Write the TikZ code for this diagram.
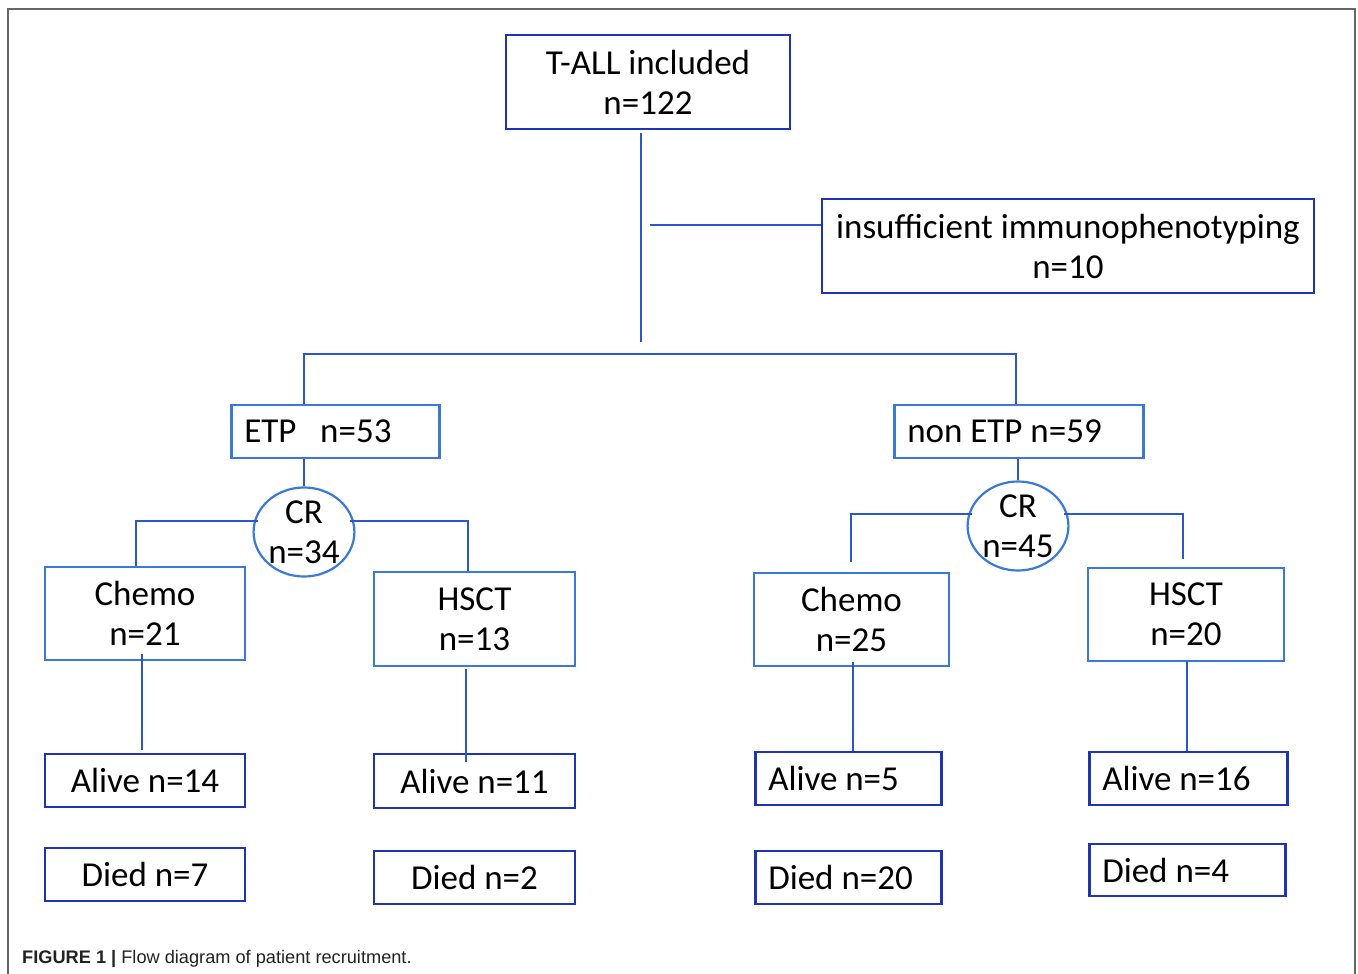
\documentclass[tikz,border=0pt]{standalone}
\usepackage{fontspec}
\setmainfont{Carlito}
\newfontfamily\capfont{Liberation Sans}
\usetikzlibrary{shapes.geometric}
\definecolor{darkbox}{HTML}{1E34B0}
\definecolor{lightbox}{HTML}{3A7AD6}
\definecolor{linkblue}{HTML}{2A58CC}
\definecolor{framegray}{HTML}{666666}
\definecolor{captext}{HTML}{222222}
\tikzset{
  every node/.style={font=\fontsize{35}{40}\selectfont, text=black},
  dbox/.style={draw=darkbox, line width=2.5pt, rectangle, inner sep=0pt, align=center},
  lbox/.style={draw=lightbox, line width=2.5pt, rectangle, inner sep=0pt, align=center},
  leftbox/.style={inner xsep=13pt, align=flush left, anchor=west},
  crnode/.style={draw=lightbox, line width=2.2pt, ellipse, inner sep=0pt, align=center},
  link/.style={draw=linkblue, line width=2pt}
}
\begin{document}
\begin{tikzpicture}[x=1pt, y=-1pt]
\useasboundingbox (0,0) rectangle (1358,974);
% frame
\draw[framegray, line width=1.5pt] (8,980) -- (8,9) -- (1355,9) -- (1355,980);

% top
\node[dbox, minimum width=284pt, minimum height=94pt] (tall) at (648,82) {T-ALL included\\n=122};
\node[dbox, minimum width=492pt, minimum height=94pt] (insuf) at (1068,246) {insufficient immunophenotyping\\n=10};

% first split
\node[lbox, minimum width=208pt, minimum height=53pt, leftbox, text width=182pt] (etp) at (230,431.5) {ETP~~~n=53};
\node[lbox, minimum width=249pt, minimum height=53pt, leftbox, text width=223pt, inner xsep=12pt] (netp) at (893,431.5) {non ETP n=59};

% CR circles
\node[crnode, minimum width=96pt, minimum height=86pt] (crL) at (304,532) {CR\\n=34};
\node[crnode, minimum width=96pt, minimum height=82pt] (crR) at (1018,526) {CR\\n=45};

% treatment boxes
\node[lbox, minimum width=200pt, minimum height=93pt] (chL) at (145,613.5) {Chemo\\n=21};
\node[lbox, minimum width=201pt, minimum height=94pt] (hsL) at (474.5,619) {HSCT\\n=13};
\node[lbox, minimum width=195pt, minimum height=93pt] (chR) at (851.5,619.5) {Chemo\\n=25};
\node[lbox, minimum width=196pt, minimum height=93pt] (hsR) at (1186,614.5) {HSCT\\n=20};

% outcome boxes
\node[dbox, minimum width=200pt, minimum height=53pt] (alL1) at (145,780.5) {Alive n=14};
\node[dbox, minimum width=200pt, minimum height=53pt] (diL1) at (145,874.5) {Died n=7};
\node[dbox, minimum width=201pt, minimum height=54pt] (alL2) at (474.5,781) {Alive n=11};
\node[dbox, minimum width=201pt, minimum height=53pt] (diL2) at (474.5,877.5) {Died n=2};
\node[dbox, minimum width=186pt, minimum height=53pt, leftbox, text width=160pt] (alR1) at (754,778.5) {Alive n=5};
\node[dbox, minimum width=186pt, minimum height=53pt, leftbox, text width=160pt] (diR1) at (754,877.5) {Died n=20};
\node[dbox, minimum width=198pt, minimum height=53pt, leftbox, text width=172pt] (alR2) at (1088,778.5) {Alive n=16};
\node[dbox, minimum width=196pt, minimum height=52pt, leftbox, text width=170pt] (diR2) at (1088,870) {Died n=4};

% caption
\node[anchor=base west, inner sep=0pt, font=\capfont\fontsize{18.2}{20}\selectfont, text=captext] (cap) at (22,963) {\textbf{FIGURE 1 |} Flow diagram of patient recruitment.};

% connectors: trunk
\coordinate (trunkTop) at (640.5,133);
\coordinate (trunkEnd) at (640.5,342);
\draw[link] (trunkTop) -- (trunkEnd);
\coordinate (sideStart) at (650,225);
\draw[link] (sideStart) -- (insuf.west |- sideStart);
\coordinate (barL) at (304,354);
\coordinate (barR) at (1016,354);
\draw[link] (etp.north -| barL) -- (barL) -- (barR) -- (netp.north -| barR);

% to CR
\draw[link] (etp.south -| crL.north) -- (crL.north);
\draw[link] (netp.south -| crR.north) -- (crR.north);

% CR split left (horizontal at y=521)
\coordinate (cLa) at (136,521);
\coordinate (cLb) at (468,521);
\coordinate (cLw) at ([xshift=-46.4pt,yshift=11pt]crL.center);
\coordinate (cLe) at ([xshift=46.4pt,yshift=11pt]crL.center);
\draw[link] (chL.north -| cLa) -- (cLa) -- (cLw);
\draw[link] (cLe) -- (cLb) -- (hsL.north -| cLb);
% CR split right (horizontal at y=514)
\coordinate (cRa) at (851,514);
\coordinate (cRaEnd) at (851,562);
\coordinate (cRb) at (1183,514);
\coordinate (cRbEnd) at (1183,559);
\coordinate (cRw) at ([xshift=-45.9pt,yshift=12pt]crR.center);
\coordinate (cRe) at ([xshift=45.9pt,yshift=12pt]crR.center);
\draw[link] (cRaEnd) -- (cRa) -- (cRw);
\draw[link] (cRe) -- (cRb) -- (cRbEnd);

% treatment to outcome
\coordinate (vL1a) at (142,654);
\coordinate (vL1b) at (142,750);
\coordinate (vL2a) at (466,669);
\coordinate (vL2b) at (466,762);
\coordinate (vR1a) at (853,662);
\coordinate (vR2a) at (1187,661);
\draw[link] (vL1a) -- (vL1b);
\draw[link] (vL2a) -- (vL2b);
\draw[link] (vR1a) -- (alR1.north -| vR1a);
\draw[link] (vR2a) -- (alR2.north -| vR2a);
\end{tikzpicture}
\end{document}
